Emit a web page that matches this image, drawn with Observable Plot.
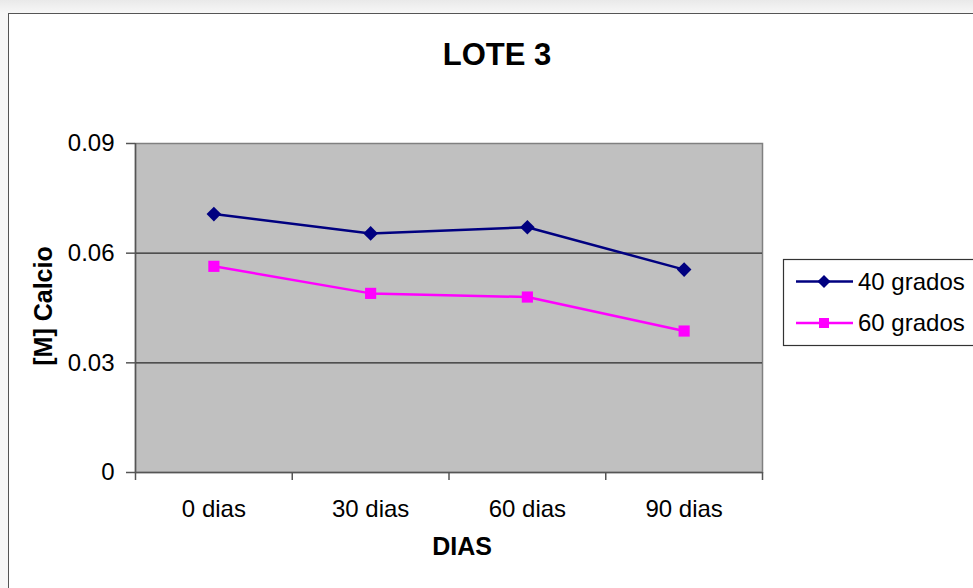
<!DOCTYPE html>
<html>
<head>
<meta charset="utf-8">
<script src="https://cdn.jsdelivr.net/npm/d3@7"></script>
<script src="https://cdn.jsdelivr.net/npm/@observablehq/plot@0.6"></script>
<style>
  html, body { margin: 0; padding: 0; }
  body { width: 973px; height: 588px; overflow: hidden; background: linear-gradient(#e9e9e9, #f7f7f7 13px); position: relative; font-family: "Liberation Sans", Arial, sans-serif; }
  #sheet { position: absolute; left: 8px; top: 13px; width: 1000px; height: 600px; background: #fff; border: 1px solid #555; }
  #chart, #overlay { position: absolute; left: 0; top: 0; }
</style>
</head>
<body>
<div id="sheet"></div>
<div id="chart"></div>
<svg id="overlay" width="973" height="588"></svg>
<script>
// Calcium concentration by storage time, lot 3
const dias = ["0 dias", "30 dias", "60 dias", "90 dias"];
const grados40 = [0.0707, 0.0654, 0.0671, 0.0555];
const grados60 = [0.0564, 0.0490, 0.0480, 0.0387];
const yTicks = [0, 0.03, 0.06, 0.09];
const series = [
  {name: "40 grados", values: grados40, color: "#000080", symbol: "diamond2", r: 6.6},
  {name: "60 grados", values: grados60, color: "#ff00ff", symbol: "square", r: 6.3}
];

const font = '"Liberation Sans", Arial, sans-serif';
const idx = d3.range(dias.length);
const edges = d3.range(dias.length + 1).map(i => i - 0.5);

const marks = [
  Plot.frame({fill: "#c0c0c0", stroke: "#808080", strokeWidth: 1.5}),
  Plot.ruleY(yTicks.slice(1, -1), {stroke: "#2a2a2a", strokeWidth: 1.2}),
  Plot.ruleY([0], {stroke: "#555", strokeWidth: 1.5}),
  Plot.ruleX([-0.5], {stroke: "#555", strokeWidth: 1.5}),
  Plot.axisY(yTicks, {tickSize: 9, tickPadding: 12, tickFormat: d => String(d), stroke: "#555", strokeWidth: 1.5, fontSize: 24, label: null}),
  Plot.axisX(edges, {tickSize: 8, tickFormat: () => "", stroke: "#555", strokeWidth: 1.5, label: null}),
  Plot.axisX(idx, {tickSize: 0, tickPadding: 27, tickFormat: i => dias[i], fontSize: 24, label: null})
];
for (const s of series) {
  const rows = s.values.map((v, i) => ({i, v}));
  marks.push(Plot.line(rows, {x: "i", y: "v", stroke: s.color, strokeWidth: 2.5}));
  marks.push(Plot.dot(rows, {x: "i", y: "v", symbol: s.symbol, r: s.r, fill: s.color, stroke: "none"}));
}

const chart = Plot.plot({
  width: 973,
  height: 588,
  marginLeft: 135,
  marginRight: 211,
  marginTop: 143,
  marginBottom: 116,
  style: {background: "transparent", fontFamily: font, color: "#000", overflow: "visible"},
  x: {domain: [-0.5, dias.length - 0.5]},
  y: {domain: [0, 0.09]},
  marks
});
document.getElementById("chart").append(chart);

// Title, axis titles and legend
const svg = d3.select("#overlay").style("font-family", font);
svg.append("text").attr("x", 497).attr("y", 65).attr("text-anchor", "middle")
  .attr("font-size", 31).attr("font-weight", "bold").text("LOTE 3");
svg.append("text").attr("x", 462).attr("y", 555).attr("text-anchor", "middle")
  .attr("font-size", 25).attr("font-weight", "bold").text("DIAS");
svg.append("text").attr("transform", "translate(52,306) rotate(-90)").attr("text-anchor", "middle")
  .attr("font-size", 25).attr("font-weight", "bold").text("[M] Calcio");

const legend = svg.append("g");
legend.append("rect").attr("x", 783.5).attr("y", 259.5).attr("width", 220).attr("height", 86)
  .attr("fill", "#fff").attr("stroke", "#333").attr("stroke-width", 1.2);
series.forEach((s, k) => {
  const y = 281.5 + k * 41.5;
  legend.append("line").attr("x1", 796).attr("x2", 853).attr("y1", y).attr("y2", y)
    .attr("stroke", s.color).attr("stroke-width", 2.5);
  legend.append("path").attr("transform", `translate(824,${y})`)
    .attr("d", d3.symbol(s.symbol === "square" ? d3.symbolSquare : d3.symbolDiamond2, Math.PI * s.r * s.r * 0.8)())
    .attr("fill", s.color);
  legend.append("text").attr("x", 858).attr("y", y + 8).attr("font-size", 24).text(s.name);
});
</script>
</body>
</html>
